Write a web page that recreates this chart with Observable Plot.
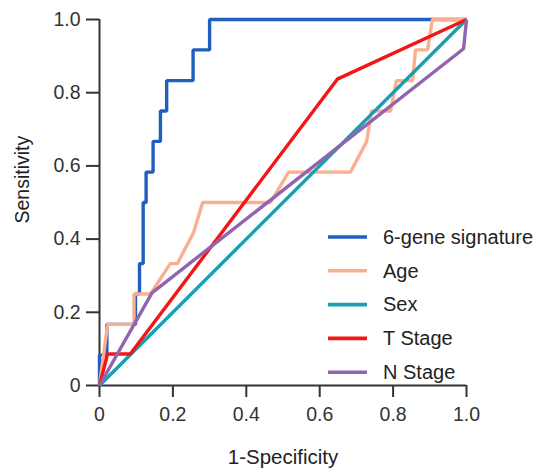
<!DOCTYPE html>
<html>
<head>
<meta charset="utf-8">
<script src="https://cdn.jsdelivr.net/npm/d3@7"></script>
<script src="https://cdn.jsdelivr.net/npm/@observablehq/plot@0.6"></script>
<style>
  html, body { margin: 0; padding: 0; background: #fff; }
  #chart { width: 536px; height: 468px; }
</style>
</head>
<body>
<div id="chart"></div>
<script>
// ---- data ----
const series = ["6-gene signature", "Age", "Sex", "T Stage", "N Stage"];
const colors = ["#1f5fbf", "#fbae90", "#17a0b3", "#f21616", "#9164b0"];

const geneFpr = [0, 0, 0.02, 0.02, 0.098, 0.098, 0.109, 0.109, 0.119, 0.119, 0.127, 0.127, 0.146, 0.146, 0.166, 0.166, 0.183, 0.183, 0.255, 0.255, 0.3, 0.3, 1];
const geneTpr = [0, 0.083, 0.083, 0.167, 0.167, 0.25, 0.25, 0.333, 0.333, 0.5, 0.5, 0.583, 0.583, 0.667, 0.667, 0.75, 0.75, 0.833, 0.833, 0.917, 0.917, 1, 1];

const ageFpr = [0, 0.022, 0.094, 0.094, 0.139, 0.193, 0.212, 0.256, 0.281, 0.466, 0.515, 0.684, 0.728, 0.741, 0.793, 0.809, 0.853, 0.861, 0.894, 0.907, 1];
const ageTpr = [0, 0.167, 0.167, 0.25, 0.25, 0.333, 0.333, 0.417, 0.5, 0.5, 0.583, 0.583, 0.667, 0.75, 0.75, 0.833, 0.833, 0.917, 0.917, 1, 1];

const sexFpr = [0, 1];
const sexTpr = [0, 1];

const tStageFpr = [0, 0.022, 0.084, 0.648, 1];
const tStageTpr = [0, 0.086, 0.086, 0.837, 1];

const nStageFpr = [0, 0.143, 0.992, 1];
const nStageTpr = [0, 0.253, 0.92, 1];

const ticks = [0, 0.2, 0.4, 0.6, 0.8, 1.0];
const xTitle = "1-Specificity";
const yTitle = "Sensitivity";

// ---- build table ----
const pairs = [[geneFpr, geneTpr], [ageFpr, ageTpr], [sexFpr, sexTpr], [tStageFpr, tStageTpr], [nStageFpr, nStageTpr]];
const rows = [];
pairs.forEach(([fx, ty], i) => fx.forEach((v, j) => rows.push({series: series[i], fpr: v, tpr: ty[j]})));

const fmt = d => d === 0 ? "0" : d.toFixed(1);
const FONT = "'Liberation Sans', Arial, Helvetica, sans-serif";
const axisColor = "#333";
const FS = 19.5;

const W = 536, H = 468;
const mL = 99, mR = 70, mT = 19, mB = 83;

const chart = Plot.plot({
  width: W, height: H,
  marginLeft: mL, marginRight: mR, marginTop: mT, marginBottom: mB,
  style: {fontFamily: FONT, fontSize: FS + "px", color: axisColor, background: "#fff", overflow: "visible"},
  x: {domain: [0, 1]},
  y: {domain: [0, 1]},
  color: {domain: series, range: colors},
  marks: [
    Plot.axisX({ticks, tickFormat: fmt, tickSize: 12, tickPadding: 10, strokeWidth: 2, fontSize: FS, label: null}),
    Plot.axisY({ticks, tickFormat: fmt, tickSize: 13, tickPadding: 6, strokeWidth: 2, fontSize: FS, label: null}),
    Plot.ruleX([0], {stroke: axisColor, strokeWidth: 2}),
    Plot.ruleY([0], {stroke: axisColor, strokeWidth: 2}),
    Plot.line(rows, {x: "fpr", y: "tpr", z: "series", stroke: "series", strokeWidth: 3.4, strokeLinejoin: "miter", strokeLinecap: "butt"}),
    Plot.text([xTitle], {frameAnchor: "bottom", dy: 72, lineAnchor: "middle", fill: "#222", fontSize: 20.5, textAnchor: "middle"}),
    Plot.text([yTitle], {frameAnchor: "left", rotate: -90, dx: -77, dy: 21, lineAnchor: "middle", fill: "#222", fontSize: FS})
  ]
});

// ---- legend inside the svg ----
const svg = d3.select(chart);
const legX = 328, legLen = 39, legY0 = 237, legStep = 33.8, legTextX = 383;
const leg = svg.append("g").attr("font-family", FONT).attr("font-size", 20).attr("text-anchor", "start");
series.forEach((name, i) => {
  const y = legY0 + i * legStep;
  leg.append("line").attr("x1", legX).attr("x2", legX + legLen).attr("y1", y).attr("y2", y)
    .attr("stroke", colors[i]).attr("stroke-width", 3.6);
  leg.append("text").attr("x", legTextX).attr("y", y).attr("dy", "0.34em").attr("fill", "#222").text(name);
});

document.getElementById("chart").appendChild(chart);
</script>
</body>
</html>
